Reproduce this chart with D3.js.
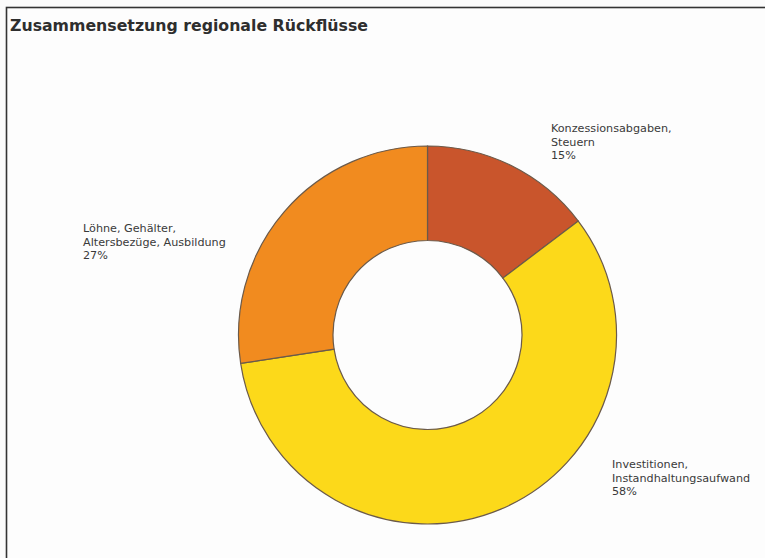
<!DOCTYPE html>
<html>
<head>
<meta charset="utf-8">
<script src="https://cdn.jsdelivr.net/npm/d3@7"></script>
<style>
  body { margin: 0; background: #fbfbfb; }
  svg { display: block; font-family: "DejaVu Sans", Verdana, sans-serif; }
</style>
</head>
<body>
<svg id="chart" width="765" height="558"></svg>
<script>
// Daten
const categories = ["Konzessionsabgaben, Steuern", "Investitionen, Instandhaltungsaufwand", "Löhne, Gehälter, Altersbezüge, Ausbildung"];
const values = [14.7, 57.9, 27.4];
const labelLines = [
    ["Konzessionsabgaben,", "Steuern"],
    ["Investitionen,", "Instandhaltungsaufwand"],
    ["Löhne, Gehälter,", "Altersbezüge, Ausbildung"]
];
const colors = ["#c9552c", "#fcd91a", "#f18b1f"];

const svg = d3.select("#chart");

// Rahmen (oben + links)
svg.append("rect")
    .attr("x", 6.5).attr("y", 7.5)
    .attr("width", 800).attr("height", 600)
    .attr("fill", "#fdfdfd")
    .attr("stroke", "#333")
    .attr("stroke-width", 1.6);

svg.append("text")
    .attr("x", 10).attr("y", 31)
    .attr("font-size", 15)
    .attr("font-weight", "bold")
    .attr("fill", "#2e2e2e")
    .attr("textLength", 358)
    .attr("lengthAdjust", "spacingAndGlyphs")
    .text("Zusammensetzung regionale Rückflüsse");

const cx = 427.5, cy = 335;
const outerR = 189, innerR = 94.5;

const pie = d3.pie().sort(null).value(d => d);
const arc = d3.arc().innerRadius(innerR).outerRadius(outerR);

const g = svg.append("g").attr("transform", `translate(${cx},${cy})`);

g.selectAll("path")
    .data(pie(values))
    .join("path")
    .attr("d", arc)
    .attr("fill", (d, i) => colors[i])
    .attr("stroke", "#6b5a4a")
    .attr("stroke-width", 1.2);

// Beschriftungen
const labelPos = [[551, 132], [612, 468], [83, 232]];
const total = d3.sum(values);

labelLines.forEach((lines, i) => {
    const t = svg.append("text")
        .attr("x", labelPos[i][0])
        .attr("y", labelPos[i][1])
        .attr("font-size", 11.2)
        .attr("fill", "#3a3a3a");
    lines.concat([Math.round(values[i] / total * 100) + "%"]).forEach((s, k) => {
        t.append("tspan")
            .attr("x", labelPos[i][0])
            .attr("dy", k === 0 ? 0 : 13.5)
            .text(s);
    });
});
</script>
</body>
</html>
